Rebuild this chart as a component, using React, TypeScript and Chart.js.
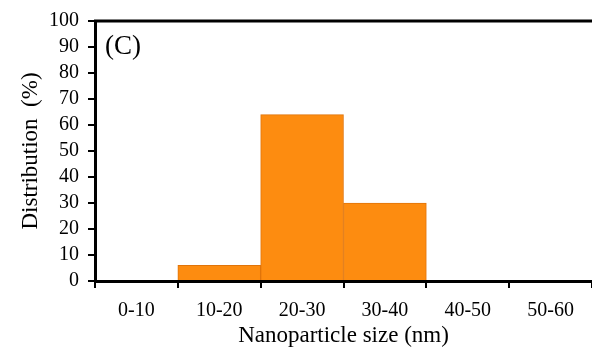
import React, { useEffect, useRef } from "react";
import { Chart, registerables } from "chart.js";

Chart.register(...registerables);

const categories = ["0-10", "10-20", "20-30", "30-40", "40-50", "50-60"];
const distribution = [0, 6, 64, 30, 0, 0];
const yTicks = [0, 10, 20, 30, 40, 50, 60, 70, 80, 90, 100];
const panelLabel = "(C)";
const xTitle = "Nanoparticle size (nm)";
const yTitle = "Distribution  (%)";

const FONT = "'Liberation Serif', 'Times New Roman', serif";

export default function App() {
  const ref = useRef<HTMLCanvasElement | null>(null);
  useEffect(() => {
    if (!ref.current) return;
    const overlay = {
      id: "overlay",
      afterDraw(chart: any) {
        const { ctx, chartArea } = chart;
        ctx.save();
        ctx.strokeStyle = "#000";
        ctx.lineWidth = 3;
        ctx.beginPath();
        ctx.moveTo(chartArea.left - 1, chartArea.top);
        ctx.lineTo(chartArea.right + 5, chartArea.top);
        ctx.stroke();
        ctx.fillStyle = "#000";
        ctx.font = `27px ${FONT}`;
        ctx.textBaseline = "alphabetic";
        ctx.textAlign = "left";
        ctx.fillText(panelLabel, chartArea.left + 10, chartArea.top + 33);
        ctx.restore();
      },
    };
    const chart = new Chart(ref.current, {
      type: "bar",
      data: {
        labels: categories,
        datasets: [
          {
            data: distribution,
            backgroundColor: "#fd8c10",
            borderColor: "#e0740a",
            borderWidth: 1,
            barPercentage: 1,
            categoryPercentage: 1,
          },
        ],
      },
      options: {
        responsive: false,
        animation: false,
        layout: { padding: { top: 18, right: 0, left: 0, bottom: 0 } },
        plugins: { legend: { display: false }, tooltip: { enabled: false } },
        scales: {
          x: {
            offset: true,
            grid: {
              offset: true,
              drawOnChartArea: false,
              drawTicks: true,
              tickLength: 7,
              color: "#000",
              lineWidth: 2,
            },
            border: { display: true, color: "#000", width: 3 },
            ticks: {
              color: "#000",
              font: { family: FONT, size: 20 },
              padding: 11,
              maxRotation: 0,
              autoSkip: false,
            },
            title: {
              display: true,
              text: xTitle,
              color: "#000",
              font: { family: FONT, size: 23 },
              padding: { top: 3, bottom: 0 },
            },
            afterFit: (s: any) => {
              s.height = 69;
            },
          },
          y: {
            min: 0,
            max: 100,
            afterBuildTicks: (s: any) => {
              s.ticks = yTicks.map((v) => ({ value: v }));
            },
            grid: {
              drawOnChartArea: false,
              drawTicks: true,
              tickLength: 7,
              color: "#000",
              lineWidth: 2,
            },
            border: { display: true, color: "#000", width: 3 },
            ticks: {
              color: "#000",
              font: { family: FONT, size: 20 },
              padding: 9,
              autoSkip: false,
              stepSize: 10,
            },
            title: {
              display: true,
              text: yTitle,
              color: "#000",
              font: { family: FONT, size: 23 },
              padding: { top: 17, bottom: 0 },
            },
            afterFit: (s: any) => {
              s.width = 95;
            },
          },
        },
      },
      plugins: [overlay],
    });
    return () => chart.destroy();
  }, []);
  return (
    <div style={{ position: "fixed", left: 0, top: 0, width: 592, height: 350, background: "#fff" }}>
      <canvas ref={ref} width={592} height={350} style={{ display: "block" }} />
    </div>
  );
}
